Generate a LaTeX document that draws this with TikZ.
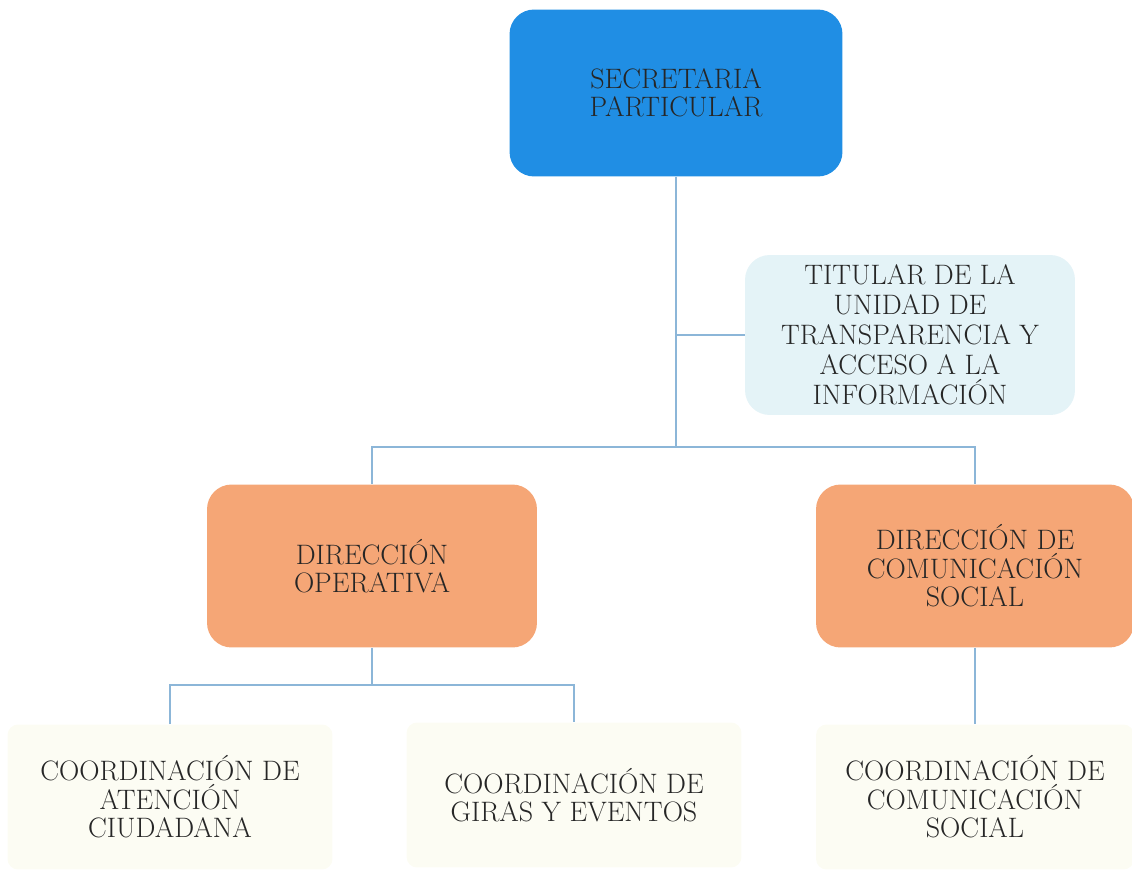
\documentclass[tikz,border=0pt]{standalone}
\usepackage{tikz}
\usetikzlibrary{calc}
\definecolor{headblue}{RGB}{32,142,228}
\definecolor{sideblue}{RGB}{228,243,247}
\definecolor{diramber}{RGB}{245,166,118}
\definecolor{coordcream}{RGB}{252,252,243}
\definecolor{linkblue}{RGB}{140,182,216}
\tikzset{
% Box styles for the chart: head, side unit, directions and coordinations
box/.style={rounded corners=14pt,align=center,inner sep=0,text=black!85,
  font=\fontsize{16}{16.2}\selectfont},
head node/.style={box,fill=headblue,minimum width=6.66cm,minimum height=3.34cm},
side node/.style={box,fill=sideblue,minimum width=6.6cm,minimum height=3.2cm},
dir node/.style={box,fill=diramber,minimum width=6.6cm,minimum height=3.26cm},
coord node/.style={box,fill=coordcream,rounded corners=6pt,minimum width=6.5cm,minimum height=2.9cm},
link/.style={draw=linkblue,line width=0.9pt}
}

\begin{document}
\begin{tikzpicture}[x=0.02cm,y=-0.02cm]
\useasboundingbox (0,0) rectangle (1132,875);
% The boxes
\node(sec)[head node] at (676,93) {SECRETARIA\\PARTICULAR};
\node(tit)[side node,font=\fontsize{16}{17}\selectfont] at (910,335) {TITULAR DE LA\\UNIDAD DE\\TRANSPARENCIA Y\\ACCESO A LA\\INFORMACIÓN};
\node(dirop)[dir node] at (372,566) {DIRECCIÓN\\OPERATIVA};
\node(dircom)[dir node,minimum width=6.36cm] at (975,566) {DIRECCIÓN DE\\COMUNICACIÓN\\SOCIAL};
\node(atn)[coord node] at (170,797) {COORDINACIÓN DE\\ATENCIÓN\\CIUDADANA};
\node(gir)[coord node,minimum width=6.7cm] at (574,795) {COORDINACIÓN DE\\GIRAS Y EVENTOS};
\node(cs)[coord node,minimum width=6.36cm] at (975,797) {COORDINACIÓN DE\\COMUNICACIÓN\\SOCIAL};
% Connectors
\coordinate(hub) at (676,447);
\coordinate(opbus) at (372,685);
\draw[link](sec.south)--(hub);
\draw[link](sec.south |- tit.west)--(tit.west);
\draw[link](dirop.north)--(dirop.north |- hub)--(dircom.north |- hub)--(dircom.north);
\draw[link](dirop.south)--(opbus);
\draw[link](atn.north)--(atn.north |- opbus)--(gir.north |- opbus)--(gir.north);
\draw[link](dircom.south)--(cs.north);
\end{tikzpicture}
\end{document}
